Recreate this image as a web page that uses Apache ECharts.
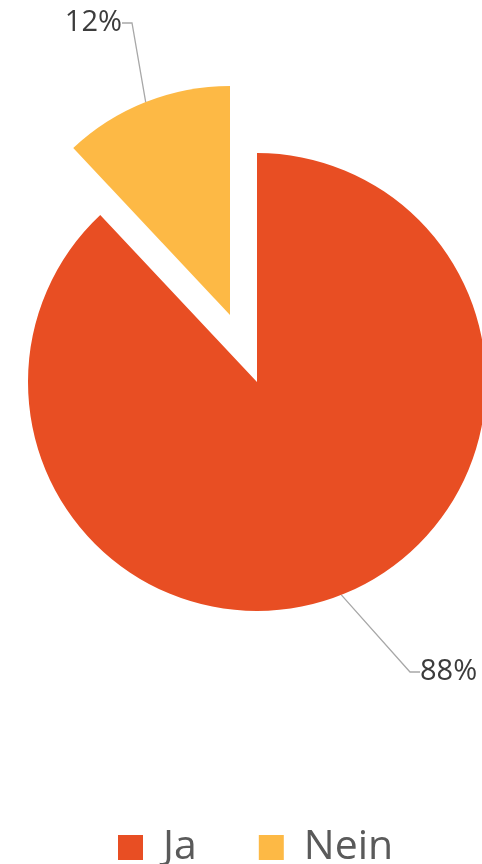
<!DOCTYPE html>
<html>
<head>
<meta charset="utf-8">
<script src="https://cdn.jsdelivr.net/npm/echarts@6/dist/echarts.min.js"></script>
<style>html,body{margin:0;padding:0;background:#fff}#c{width:482px;height:864px}</style>
</head>
<body>
<div id="c"></div>
<script>
const categories = ['Ja', 'Nein'];
const values = [88, 12];
const labels = ['88%', '12%'];
const colors = ['#E84E23', '#FDB945'];

const chart = echarts.init(document.getElementById('c'), null, {renderer: 'canvas'});
// Nein slice is "pulled out" of the pie: drawn by a second pie layer with shifted centre
const centers = [[257, 382], [230, 315]];
const labelPos = [
  {x: 420, y: 672, align: 'left', verticalAlign: 'middle'},
  {x: 122, y: 23, align: 'right', verticalAlign: 'middle'}
];
const labelPad = [[0, 0, 22, 0], [0, 0, 22, 200]];
const series = centers.map((ctr, s) => ({
  type: 'pie',
  name: categories[s],
  center: ctr,
  radius: [0, 229],
  startAngle: 90,
  clockwise: true,
  avoidLabelOverlap: false,
  label: {
    fontSize: 29,
    color: '#3c3c3c',
    fontFamily: 'Open Sans',
    backgroundColor: 'rgba(255,255,255,0)',
    formatter: p => labels[p.dataIndex]
  },
  labelLine: {length: 60, length2: 10, lineStyle: {color: '#a8a8a8', width: 1.3}},
  labelLayout: p => labelPos[p.dataIndex],
  emphasis: {disabled: true},
  data: categories.map((c, i) => ({
    name: c,
    value: values[i],
    itemStyle: {color: i === s ? colors[i] : 'rgba(0,0,0,0)'},
    label: {show: i === s, padding: labelPad[i]},
    labelLine: {show: i === s}
  }))
}));

chart.setOption({
  animation: false,
  legend: {
    bottom: -9,
    left: 113,
    itemWidth: 25,
    itemHeight: 25,
    itemGap: 62,
    icon: 'rect',
    textStyle: {fontSize: 41, color: '#5a5a5a', fontFamily: 'Open Sans', padding: [0, 0, 0, 15]},
    data: categories.map((c, i) => ({name: c, itemStyle: {color: colors[i]}}))
  },
  series: series
});
</script>
</body>
</html>
